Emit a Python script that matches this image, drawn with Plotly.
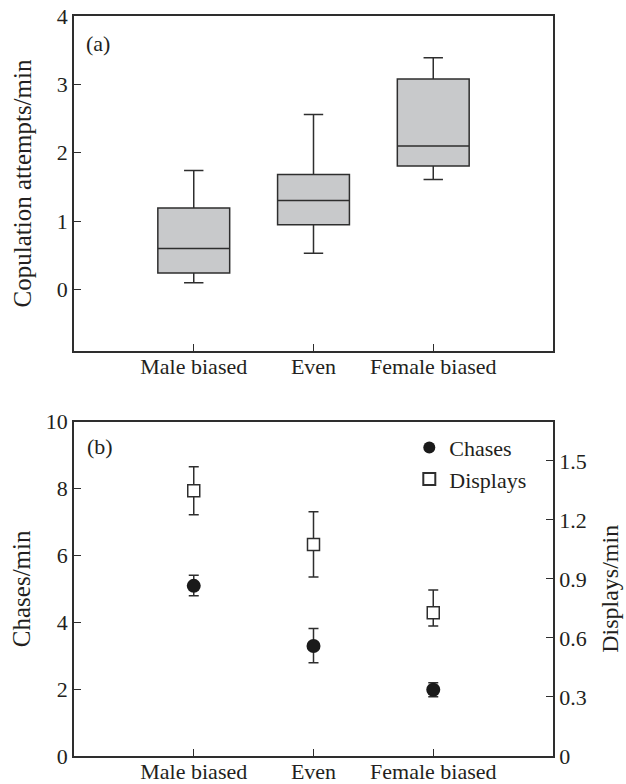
import plotly.graph_objects as go

# ---- data ----
groups = ["Male biased", "Even", "Female biased"]
group_pos = [0, 1, 2]

# panel (a): copulation attempts/min box summaries
cop_low = [0.10, 0.53, 1.61]
cop_q1 = [0.24, 0.945, 1.805]
cop_median = [0.60, 1.30, 2.10]
cop_q3 = [1.19, 1.68, 3.08]
cop_high = [1.74, 2.56, 3.39]

# panel (b): chases/min (left axis) and displays/min (right axis)
chases_mean = [5.09, 3.29, 1.98]
chases_upper = [5.41, 3.81, 2.19]
chases_lower = [4.79, 2.79, 1.77]

displays_mean = [1.349, 1.076, 0.729]
displays_upper = [1.471, 1.242, 0.844]
displays_lower = [1.227, 0.910, 0.661]

left_b_ticks = [0, 2, 4, 6, 8, 10]
right_b_ticks = [0, 0.3, 0.6, 0.9, 1.2, 1.5]
right_b_labels = ["0", "0.3", "0.6", "0.9", "1.2", "1.5"]

FONT = "Liberation Serif"
INK = "#231f20"
LINE = "#2e2e2e"
TICKF = 22
TITLEF = 25

fig = go.Figure()

fig.add_trace(go.Box(
    x=group_pos, q1=cop_q1, median=cop_median, q3=cop_q3,
    lowerfence=cop_low, upperfence=cop_high,
    width=0.6, whiskerwidth=0.27,
    fillcolor="#c8c9cb", line=dict(color=LINE, width=1.5),
    boxpoints=False, showlegend=False, xaxis="x", yaxis="y",
    hoverinfo="skip",
))

fig.add_trace(go.Scatter(
    x=group_pos, y=chases_mean, mode="markers", name="Chases",
    marker=dict(symbol="circle", size=14, color="#1a1a1a"),
    error_y=dict(type="data", symmetric=False,
                 array=[u - m for u, m in zip(chases_upper, chases_mean)],
                 arrayminus=[m - l for l, m in zip(chases_lower, chases_mean)],
                 color=LINE, thickness=1.5, width=5),
    xaxis="x2", yaxis="y2",
))

fig.add_trace(go.Scatter(
    x=group_pos, y=displays_mean, mode="markers", name="Displays",
    marker=dict(symbol="square", size=12, color="white",
                line=dict(color=LINE, width=1.5)),
    error_y=dict(type="data", symmetric=False,
                 array=[u - m for u, m in zip(displays_upper, displays_mean)],
                 arrayminus=[m - l for l, m in zip(displays_lower, displays_mean)],
                 color=LINE, thickness=1.5, width=5),
    xaxis="x2", yaxis="y3",
))

axis_common = dict(
    showline=True, linecolor=LINE, linewidth=1.5,
    ticks="inside", ticklen=7, tickwidth=1.2, tickcolor=LINE,
    showgrid=False, zeroline=False, automargin=False,
    tickfont=dict(family=FONT, size=TICKF, color=INK),
)

fig.update_layout(
    width=626, height=784,
    margin=dict(l=74, r=73, t=16, b=28),
    paper_bgcolor="white", plot_bgcolor="white",
    font=dict(family=FONT, color=INK),
    xaxis=dict(domain=[0, 1], range=[-1, 3], anchor="y", mirror=True,
               tickvals=group_pos, ticktext=groups, ticklabelstandoff=-5,
               **axis_common),
    yaxis=dict(domain=[0.5473, 1], range=[-0.9, 4], anchor="x", mirror=True,
               tickvals=[0, 1, 2, 3, 4],
               title=dict(text="Copulation attempts/min",
                          font=dict(family=FONT, size=TITLEF, color=INK),
                          standoff=18),
               **axis_common),
    xaxis2=dict(domain=[0, 1], range=[-1, 3], anchor="y2", mirror=True,
                tickvals=group_pos, ticktext=groups, ticklabelstandoff=-5,
                **axis_common),
    yaxis2=dict(domain=[0, 0.4518], range=[0, 10], anchor="x2",
                tickvals=left_b_ticks,
                title=dict(text="Chases/min",
                           font=dict(family=FONT, size=TITLEF, color=INK),
                           standoff=8),
                **axis_common),
    yaxis3=dict(domain=[0, 0.4518], range=[0, 1.7], anchor="x2",
                overlaying="y2", side="right",
                tickvals=right_b_ticks, ticktext=right_b_labels,
                title=dict(text="Displays/min",
                           font=dict(family=FONT, size=24, color=INK),
                           standoff=16),
                **axis_common),
    legend=dict(x=0.70, y=0.445, xanchor="left", yanchor="top",
                bgcolor="rgba(0,0,0,0)",
                font=dict(family=FONT, size=TICKF, color=INK),
                tracegroupgap=0, itemsizing="constant"),
    showlegend=True,
    annotations=[
        dict(text="(a)", x=0.05, y=0.9635, xref="paper", yref="paper",
             xanchor="center", yanchor="middle", showarrow=False,
             font=dict(family=FONT, size=TICKF, color=INK)),
        dict(text="(b)", x=0.054, y=0.418, xref="paper", yref="paper",
             xanchor="center", yanchor="middle", showarrow=False,
             font=dict(family=FONT, size=TICKF, color=INK)),
    ],
)

fig.write_html("out.html", config={"displayModeBar": False},
               post_script="document.body.style.margin='0';")
